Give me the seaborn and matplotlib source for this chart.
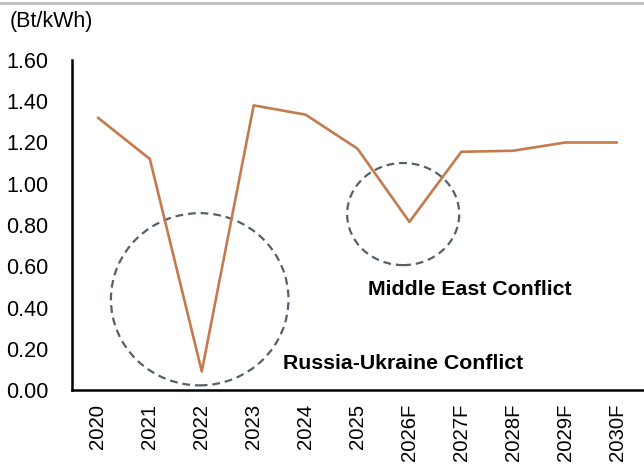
import matplotlib
matplotlib.use("Agg")
import matplotlib.pyplot as plt
import seaborn as sns
import pandas as pd
from matplotlib.patches import Ellipse
from matplotlib.lines import Line2D

years = ["2020", "2021", "2022", "2023", "2024", "2025", "2026F", "2027F", "2028F", "2029F", "2030F"]
values = [1.32, 1.12, 0.09, 1.38, 1.335, 1.17, 0.815, 1.155, 1.16, 1.20, 1.20]
y_ticks = [0.0, 0.2, 0.4, 0.6, 0.8, 1.0, 1.2, 1.4, 1.6]

sns.set_style("white")
plt.rcParams['font.family'] = ['Liberation Sans', 'DejaVu Sans']
plt.rcParams['text.color'] = 'black'
plt.rcParams['xtick.color'] = 'black'
plt.rcParams['ytick.color'] = 'black'

df = pd.DataFrame({"year": years, "value": values})
df["pos"] = range(len(years))

fig = plt.figure(figsize=(6.44, 4.70), dpi=100)
ax = fig.add_axes([72/644, 80/470, 571/644, 330/470])

sns.lineplot(data=df, x="pos", y="value", ax=ax, color="#C47A4E", linewidth=1.9)

ax.set_xlim(-0.5, len(years) - 0.5)
ax.set_ylim(0, 1.6)
ax.set_yticks(y_ticks)
ax.set_yticklabels([f"{v:.2f}" for v in y_ticks], fontsize=15.5, color="black")
ax.set_xticks(range(len(years)))
ax.set_xticklabels(years, rotation=90, fontsize=14.7, color="black")
ax.tick_params(axis="x", length=0, pad=10)
# boundary ticks between categories
ax.set_xticks([i - 0.5 for i in range(len(years) + 1)], minor=True)
ax.tick_params(axis="x", which="minor", length=4.5, width=1.5, direction="out", color="black")
ax.tick_params(axis="y", length=4.5, width=1.5, direction="out", color="black", pad=12.5)
ax.set_xlabel("")
ax.set_ylabel("")

for s in ["top", "right"]:
    ax.spines[s].set_visible(False)
for s in ["left", "bottom"]:
    ax.spines[s].set_color("black")
    ax.spines[s].set_linewidth(1.8)

circ_color = "#55606B"
e1 = Ellipse((1.96, 0.44), width=3.42, height=0.835, fill=False, edgecolor=circ_color,
             linestyle=(0, (3.5, 2.2)), linewidth=1.6, clip_on=False)
e2 = Ellipse((5.88, 0.853), width=2.16, height=0.495, fill=False, edgecolor=circ_color,
             linestyle=(0, (3.5, 2.2)), linewidth=1.6, clip_on=False)
ax.add_patch(e1)
ax.add_patch(e2)

ax.text(7.17, 0.485, "Middle East Conflict", fontsize=15.3, fontweight="bold",
        ha="center", va="center", color="black")
ax.text(5.87, 0.13, "Russia-Ukraine Conflict", fontsize=15.3, fontweight="bold",
        ha="center", va="center", color="black")

fig.text(10/644, 1 - 22/470, "(Bt/kWh)", fontsize=15.5, ha="left", va="center", color="black")
fig.add_artist(Line2D([0, 1], [1 - 3/470, 1 - 3/470], color="#BEBEBE", linewidth=2.0,
                      transform=fig.transFigure))

fig.savefig("out.png", dpi=100)
